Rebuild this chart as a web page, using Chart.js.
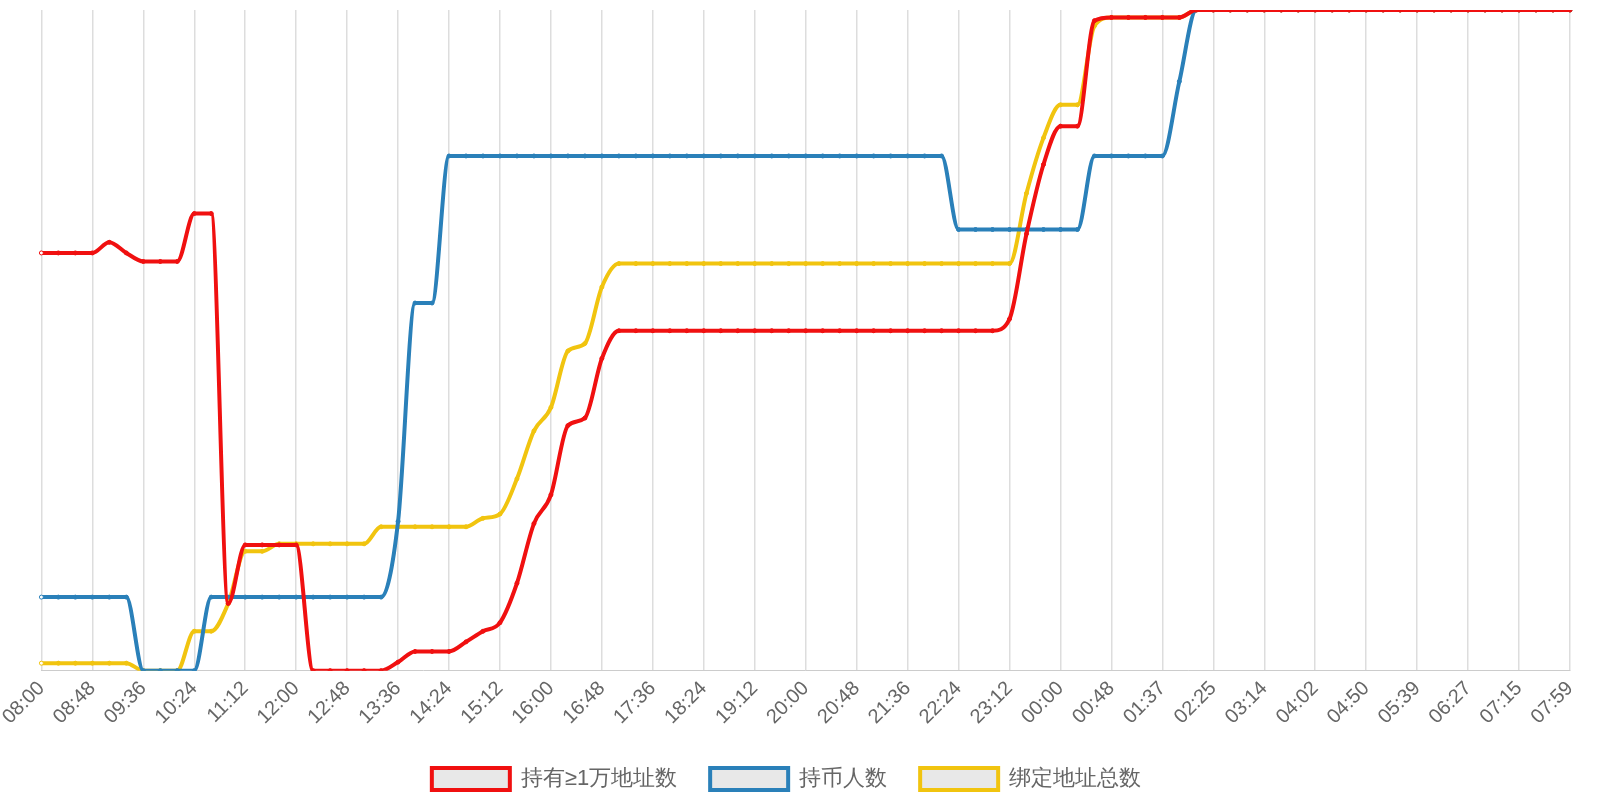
<!DOCTYPE html><html><head><meta charset="utf-8">
<script src="https://cdn.jsdelivr.net/npm/chart.js@4/dist/chart.umd.min.js"></script>
<style>html,body{margin:0;background:#fff}#w{width:1600px;height:800px}</style></head><body><div id="w"><canvas id="c"></canvas></div>
<script>
const tickLabels=['08:00','08:48','09:36','10:24','11:12','12:00','12:48','13:36','14:24','15:12','16:00','16:48','17:36','18:24','19:12','20:00','20:48','21:36','22:24','23:12','00:00','00:48','01:37','02:25','03:14','04:02','04:50','05:39','06:27','07:15','07:59'];
const seriesNames=['持有≥1万地址数','持币人数','绑定地址总数'];
const red=[392,392,392,392,402,392,384,384,384,429,429,63,118,118,118,118,0,0,0,0,0,8,18,18,18,27,37,45,82,138,165,230,237,293,319,319,319,319,319,319,319,319,319,319,319,319,319,319,319,319,319,319,319,319,319,319,319,330,410,475,511,511,610,613,613,613,613,613,620,620,620,620,620,620,620,620,620,620,620,620,620,620,620,620,620,620,620,620,620,620,620];
const blue=[69,69,69,69,69,69,0,0,0,0,69,69,69,69,69,69,69,69,69,69,69,140,345,345,483,483,483,483,483,483,483,483,483,483,483,483,483,483,483,483,483,483,483,483,483,483,483,483,483,483,483,483,483,483,414,414,414,414,414,414,414,414,483,483,483,483,483,553,620,620,620,620,620,620,620,620,620,620,620,620,620,620,620,620,620,620,620,620,620,620,620];
const yellow=[7,7,7,7,7,7,0,0,0,37,37,63,112,112,119,119,119,119,119,119,135,135,135,135,135,135,143,147,180,225,247,300,307,360,382,382,382,382,382,382,382,382,382,382,382,382,382,382,382,382,382,382,382,382,382,382,382,382,448,500,531,531,605,613,613,613,613,613,620,620,620,620,620,620,620,620,620,620,620,620,620,620,620,620,620,620,620,620,620,620,620];
const categories=[];
tickLabels.forEach((t,i)=>{categories.push(t);if(i<tickLabels.length-1){categories.push('');categories.push('');}});
const colors=['#f01010','#2a80b9','#f1c40f'];
const mk=(d,i)=>({label:seriesNames[i],data:d,borderColor:colors[i],backgroundColor:'#e8e8e8',borderWidth:4,
 pointRadius:2,pointBorderWidth:1,pointBorderColor:colors[i],pointBackgroundColor:d.map((_,k)=>k===0?'#fff':colors[i]),
 cubicInterpolationMode:'monotone'});
new Chart(document.getElementById('c'),{type:'line',
data:{labels:categories,datasets:[mk(red,0),mk(blue,1),mk(yellow,2)]},
options:{responsive:true,maintainAspectRatio:false,animation:false,
 layout:{padding:{left:3,right:30,top:10,bottom:0}},
 plugins:{legend:{position:'bottom',labels:{boxWidth:78,boxHeight:22,color:'#666',font:{size:22},padding:33}},tooltip:{enabled:false}},
 scales:{x:{grid:{color:'#ddd',lineWidth:1.5,drawTicks:true,tickLength:0},border:{color:'#ccc'},
   ticks:{autoSkip:false,maxRotation:45,minRotation:45,color:'#666',font:{size:20},padding:6,callback:(v,i)=>i%3===0?categories[i]:null}},
  y:{display:false,min:0,max:620}}}});
</script></body></html>
